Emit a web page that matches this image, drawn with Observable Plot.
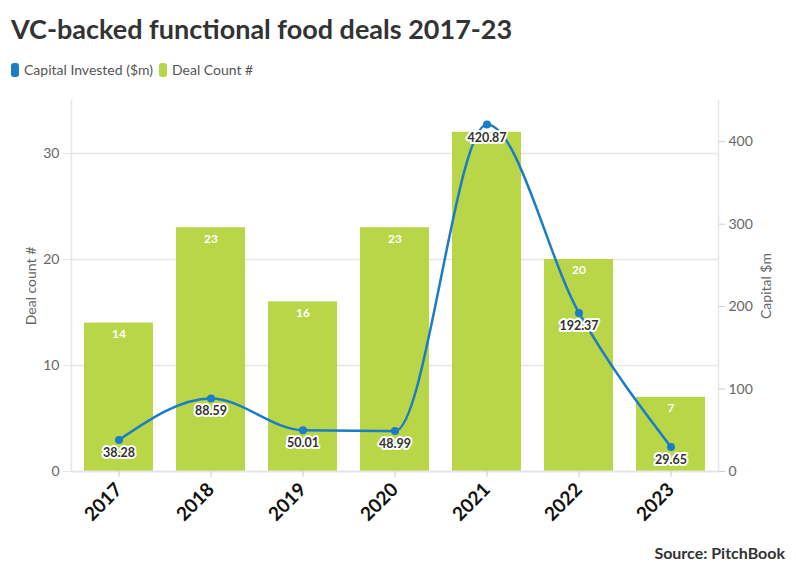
<!DOCTYPE html>
<html>
<head>
<meta charset="utf-8">
<script src="https://cdn.jsdelivr.net/npm/d3@7"></script>
<script src="https://cdn.jsdelivr.net/npm/@observablehq/plot@0.6"></script>
<style>
  body { margin: 0; background: #fff; font-family: Lato, "Open Sans", sans-serif; }
  #wrap { position: relative; width: 796px; height: 575px; overflow: hidden; }
  #title { position: absolute; left: 11px; top: 12px; font-size: 27px; font-weight: 700; color: #333; }
  #legend { position: absolute; left: 11px; top: 61px; font-size: 14px; color: #555; display: flex; align-items: center; }
  .sw { display: inline-block; width: 8px; height: 14px; border-radius: 3px; margin-right: 5px; }
  .item { display: flex; align-items: center; margin-right: 6px; }
  #chart { position: absolute; left: 0; top: 88px; }
  #source { position: absolute; right: 11px; top: 543px; font-size: 16px; font-weight: 700; color: #333; }
</style>
</head>
<body>
<div id="wrap">
  <div id="title">VC-backed functional food deals 2017-23</div>
  <div id="legend">
    <span class="item"><span class="sw" style="background:#1a7dc5"></span>Capital Invested ($m)</span>
    <span class="item"><span class="sw" style="background:#b9d548"></span>Deal Count #</span>
  </div>
  <div id="chart"></div>
  <div id="source">Source: PitchBook</div>
</div>
<script>
const years = ["2017", "2018", "2019", "2020", "2021", "2022", "2023"];
const dealCount = [14, 23, 16, 23, 32, 20, 7];
const capital = [38.28, 88.59, 50.01, 48.99, 420.87, 192.37, 29.65];
const countTicks = [0, 10, 20, 30];
const capitalTicks = [0, 100, 200, 300, 400];

const countMax = 35;
const capMax = 450;
const k = countMax / capMax;

const data = years.map((y, i) => ({year: y, count: dealCount[i], cap: capital[i], capScaled: capital[i] * k}));

const blue = "#1a7dc5";
const green = "#b9d548";
const grid = "#e6e6e6";

const chart = Plot.plot({
  width: 796,
  height: 460,
  marginLeft: 71,
  marginRight: 78,
  marginTop: 12,
  marginBottom: 77,
  style: {fontFamily: "Lato, 'Open Sans', sans-serif", background: "#fff"},
  x: {domain: years, paddingInner: 0.25, paddingOuter: 0.125, label: null},
  y: {domain: [0, countMax], label: null},
  marks: [
    Plot.gridY(countTicks.slice(1), {stroke: grid, strokeOpacity: 1, strokeWidth: 1.5}),
    Plot.frame({anchor: "left", stroke: grid, strokeWidth: 1.5}),
    Plot.frame({anchor: "right", stroke: grid, strokeWidth: 1.5}),
    Plot.barY(data, {x: "year", y: "count", fill: green}),
    Plot.ruleY([0], {stroke: grid, strokeWidth: 2}),
    Plot.text(data.filter(d => Math.abs(d.capScaled - d.count) > 2), {x: "year", y: "count", text: d => String(d.count), dy: 11, fill: "#fff", fontWeight: "bold", fontSize: 12}),
    Plot.line(data, {x: "year", y: "capScaled", stroke: blue, strokeWidth: 2.5, curve: "monotone-x"}),
    Plot.dot(data, {x: "year", y: "capScaled", fill: blue, r: 4}),
    Plot.text(data, {x: "year", y: "capScaled", text: d => d.cap.toFixed(2), dy: 13, fill: "#333", stroke: "#fff", strokeWidth: 4, fontWeight: "bold", fontSize: 12.5}),
    Plot.axisY(countTicks, {anchor: "left", tickSize: 8, stroke: grid, fill: "#666", fontSize: 14, tickPadding: 4, label: "Deal count #", labelAnchor: "center", labelArrow: "none", labelOffset: 45}),
    Plot.axisY(capitalTicks.map(v => v * k), {anchor: "right", tickSize: 6, stroke: "#ccc", fill: "#666", fontSize: 14, tickPadding: 4, tickFormat: d => String(Math.round(d / k)), label: "Capital $m", labelAnchor: "center", labelArrow: "none", labelOffset: 52}),
    Plot.axisX({tickRotate: -45, tickSize: 6, stroke: "#ccc", fill: "#111", fontSize: 19, fontWeight: "bold", label: null, tickPadding: 9})
  ]
});
document.getElementById("chart").appendChild(chart);
</script>
</body>
</html>
